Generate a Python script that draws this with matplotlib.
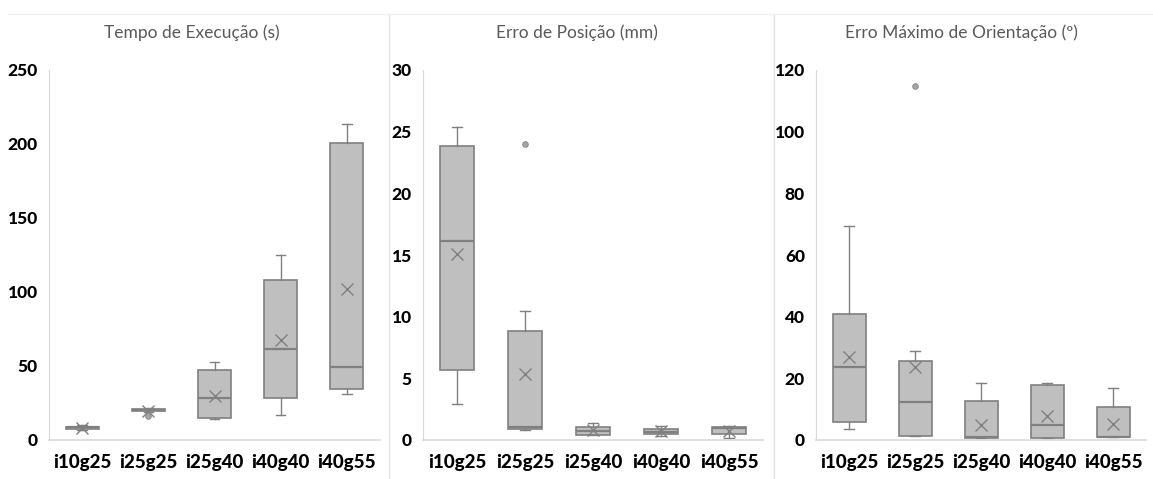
import matplotlib
matplotlib.use("Agg")
import matplotlib.pyplot as plt
from matplotlib.lines import Line2D

plt.rcParams['font.family'] = ['Lato', 'DejaVu Sans']

categories = ["i10g25", "i25g25", "i25g40", "i40g40", "i40g55"]

titles = ["Tempo de Execução (s)", "Erro de Posição (mm)", "Erro Máximo de Orientação (º)"]

# Panel 1: Tempo de Execução (s)
t_whislo = [7.0, 19.0, 14.0, 17.2, 31.3]
t_q1     = [7.5, 19.5, 14.7, 28.2, 34.7]
t_med    = [8.5, 20.0, 28.2, 61.3, 49.6]
t_q3     = [9.0, 21.0, 47.3, 108.0, 201.0]
t_whishi = [10.0, 21.5, 53.0, 125.0, 213.8]
t_mean   = [8.0, 19.5, 29.7, 67.6, 102.3]
t_fliers = [[], [16.0], [], [], []]

# Panel 2: Erro de Posição (mm)
p_whislo = [2.9, 0.8, 0.43, 0.35, 0.14]
p_q1     = [5.7, 0.87, 0.43, 0.46, 0.46]
p_med    = [16.1, 1.08, 0.73, 0.68, 1.0]
p_q3     = [23.8, 8.8, 1.05, 0.89, 1.05]
p_whishi = [25.4, 10.5, 1.38, 1.16, 1.15]
p_mean   = [15.1, 5.35, 0.8, 0.7, 0.7]
p_fliers = [[], [24.0], [], [], []]

# Panel 3: Erro Máximo de Orientação (º)
o_whislo = [3.6, 1.2, 0.65, 0.5, 0.85]
o_q1     = [5.95, 1.2, 0.65, 0.5, 0.85]
o_med    = [23.8, 12.2, 1.0, 4.9, 1.0]
o_q3     = [41.0, 25.7, 12.8, 17.9, 10.6]
o_whishi = [69.4, 29.0, 18.5, 18.5, 16.8]
o_mean   = [26.9, 23.8, 5.0, 7.9, 5.2]
o_fliers = [[], [114.9], [], [], []]

panels = [
    (t_whislo, t_q1, t_med, t_q3, t_whishi, t_mean, t_fliers, 250, 50),
    (p_whislo, p_q1, p_med, p_q3, p_whishi, p_mean, p_fliers, 30, 5),
    (o_whislo, o_q1, o_med, o_q3, o_whishi, o_mean, o_fliers, 120, 20),
]

W, H = 1153, 479
fig = plt.figure(figsize=(W / 100, H / 100), dpi=100)

ax_px = [(49, 380), (423, 763), (816, 1146)]
top_px, bot_px = 70, 440
title_x = [192, 577, 961]

edge = "#808080"
fill = "#bfbfbf"

for i, (wl, q1, med, q3, wh, mn, fl, ymax, step) in enumerate(panels):
    l, r = ax_px[i]
    ax = fig.add_axes([l / W, (H - bot_px) / H, (r - l) / W, (bot_px - top_px) / H])
    stats = []
    for k, c in enumerate(categories):
        stats.append(dict(label=c, whislo=wl[k], q1=q1[k], med=med[k], q3=q3[k],
                          whishi=wh[k], mean=mn[k], fliers=fl[k]))
    ax.bxp(stats, positions=range(len(categories)), widths=0.5, capwidths=0.14,
           showmeans=True, patch_artist=True,
           boxprops=dict(facecolor=fill, edgecolor=edge, linewidth=1.2),
           medianprops=dict(color=edge, linewidth=1.6),
           whiskerprops=dict(color=edge, linewidth=1.0),
           capprops=dict(color=edge, linewidth=1.0),
           meanprops=dict(marker='x', markeredgecolor=edge, markersize=8, markeredgewidth=1.0),
           flierprops=dict(marker='o', markerfacecolor='#a6a6a6', markeredgecolor=edge,
                           markersize=4, markeredgewidth=0.6))
    ax.set_xlim(-0.5, len(categories) - 0.5)
    ax.set_ylim(0, ymax)
    ax.set_yticks(range(0, ymax + 1, step))
    ax.set_xticks(range(len(categories)))
    ax.set_xticklabels(categories, fontsize=13.5, fontweight='black', color='black')
    for lab in ax.get_yticklabels():
        lab.set_fontsize(12.5)
        lab.set_fontweight('black')
        lab.set_color('black')
    ax.tick_params(axis='both', length=0)
    ax.tick_params(axis='y', pad=8)
    ax.tick_params(axis='x', pad=10)
    for s in ['top', 'right']:
        ax.spines[s].set_visible(False)
    ax.spines['left'].set_color('#d9d9d9')
    ax.spines['bottom'].set_color('#d9d9d9')
    ax.spines['bottom'].set_linewidth(1.2)
    ax.set_facecolor('none')
    fig.text(title_x[i] / W, 1 - 33 / H, titles[i], ha='center', va='center',
             fontsize=12.5, color='#595959')

# panel frames (faint separators)
for xs in [389, 774]:
    fig.add_artist(Line2D([xs / W, xs / W], [0, 1 - 14 / H], color='#e3e3e3', linewidth=1.0))
for (x0, x1) in [(8, 388), (391, 773), (776, 1153)]:
    fig.add_artist(Line2D([x0 / W, x1 / W], [1 - 14 / H, 1 - 14 / H], color='#f0f0f0', linewidth=1.0))

fig.savefig("out.png", dpi=100)
